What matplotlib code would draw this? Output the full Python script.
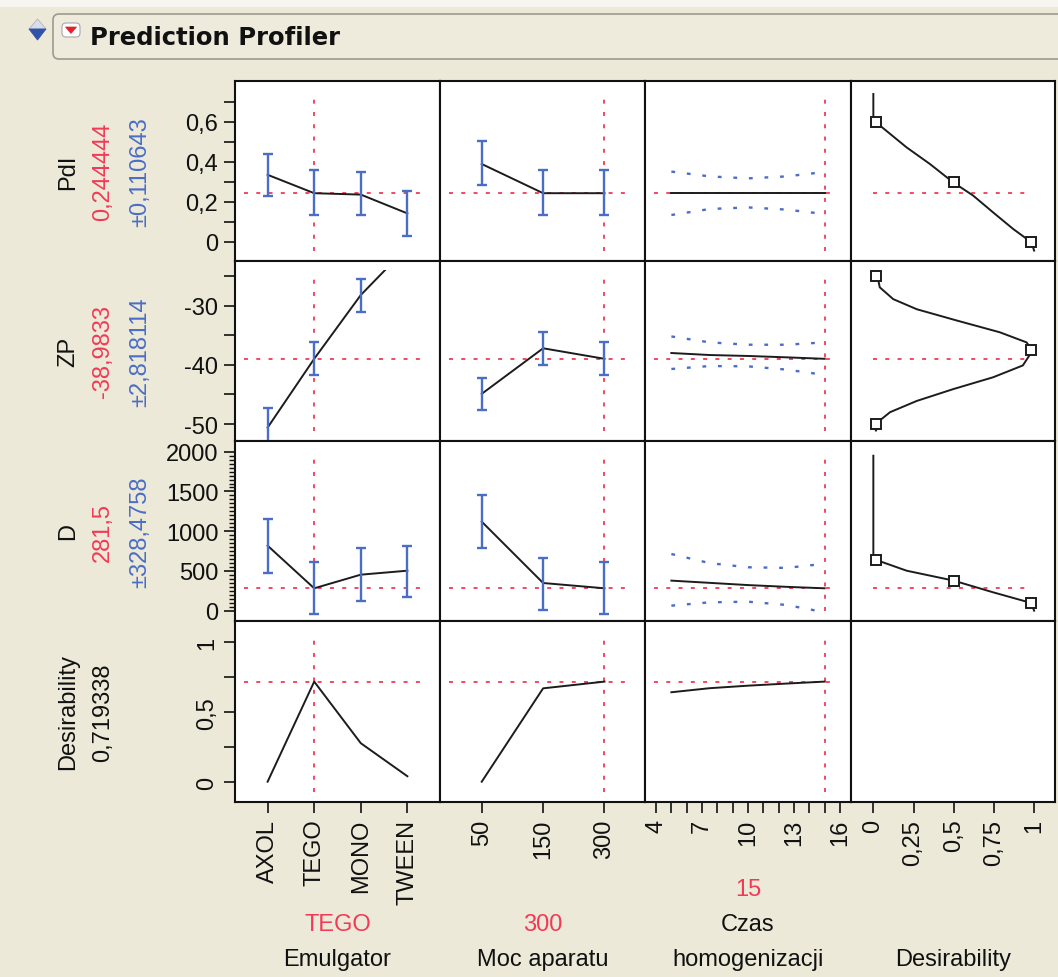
import numpy as np
import matplotlib.pyplot as plt
from matplotlib.patches import FancyBboxPatch, Polygon, Rectangle

plt.rcParams["font.family"] = ["Liberation Sans", "DejaVu Sans"]

# ── configuration ────────────────────────────────────────────────────
W, H = 1058, 978
BG = "#ECE9D8"
RED = "#F23A55"
BLUE = "#4A6EC6"
INK = "#1C1C1C"
FS = 17

COL_EDGES = [235, 440, 645, 851, 1055]   # panel grid, pixels
ROW_EDGES = [82, 262, 442, 622, 803]

# ── factors ──────────────────────────────────────────────────────────
EMUL_LEVELS = ["AXOL", "TEGO", "MONO", "TWEEN"]
MOC_LEVELS = ["50", "150", "300"]
CZAS_TICKS = [4, 7, 10, 13, 16]
DES_TICKS = [0, 0.25, 0.5, 0.75, 1]
DES_TICKLABELS = ["0", "0,25", "0,5", "0,75", "1"]

CURRENT = [1, 2, 15]                      # TEGO, 300, 15
FACTOR_CUR_TXT = ["TEGO", "300", "15"]
FACTOR_NAMES = ["Emulgator", "Moc aparatu", ["Czas", "homogenizacji"], "Desirability"]

# ── responses ────────────────────────────────────────────────────────
RESP_NAMES = ["PdI", "ZP", "D", "Desirability"]
PRED = [0.244444, -38.9833, 281.5, 0.719338]
PRED_TXT = ["0,244444", "-38,9833", "281,5", "0,719338"]
CI_TXT = ["±0,110643", "±2,818114", "±328,4758", None]

# Emulgator profile (AXOL, TEGO, MONO, TWEEN)
PDI_EMUL = [0.336, 0.244, 0.237, 0.143]
PDI_EMUL_LO = [0.228, 0.135, 0.135, 0.032]
PDI_EMUL_HI = [0.440, 0.360, 0.348, 0.257]
ZP_EMUL = [-50.6, -38.98, -28.2, -20.1]
ZP_EMUL_LO = [-53.8, -41.8, -31.0, -22.9]
ZP_EMUL_HI = [-47.35, -36.2, -25.5, -17.3]
D_EMUL = [818, 281.5, 453, 503]
D_EMUL_LO = [474, -47, 118, 169]
D_EMUL_HI = [1154, 610, 789, 810]
DES_EMUL = [0.004, 0.719, 0.279, 0.043]

# Moc aparatu profile (50, 150, 300)
PDI_MOC = [0.390, 0.244, 0.244]
PDI_MOC_LO = [0.287, 0.135, 0.135]
PDI_MOC_HI = [0.503, 0.360, 0.360]
ZP_MOC = [-44.9, -37.2, -38.98]
ZP_MOC_LO = [-47.6, -40.0, -41.8]
ZP_MOC_HI = [-42.2, -34.5, -36.2]
D_MOC = [1120, 348, 281.5]
D_MOC_LO = [789, 9, -47]
D_MOC_HI = [1459, 659, 610]
DES_MOC = [0.004, 0.671, 0.719]

# Czas homogenizacji profile (continuous)
CZAS = [5, 7.5, 10, 12.5, 15]
PDI_CZAS = [0.244, 0.244, 0.244, 0.244, 0.244]
PDI_CZAS_LO = [0.135, 0.165, 0.173, 0.162, 0.140]
PDI_CZAS_HI = [0.352, 0.328, 0.318, 0.328, 0.350]
ZP_CZAS = [-38.0, -38.34, -38.5, -38.73, -38.98]
ZP_CZAS_LO = [-40.7, -40.2, -40.25, -40.8, -41.7]
ZP_CZAS_HI = [-35.2, -36.2, -36.6, -36.6, -36.2]
D_CZAS = [378, 350, 322, 300, 281.5]
D_CZAS_LO = [63, 105, 113, 72, -20]
D_CZAS_HI = [713, 598, 546, 538, 590]
DES_CZAS = [0.643, 0.672, 0.690, 0.705, 0.719]

# desirability functions (desirability, response)
PDI_DES_D = [0.0, 0.0, 0.017, 0.207, 0.352, 0.497, 0.621, 0.745, 0.870, 0.984, 1.0]
PDI_DES_Y = [0.74, 0.60, 0.598, 0.473, 0.390, 0.298, 0.232, 0.148, 0.065, -0.002, -0.043]
ZP_DES_D = [0.027, 0.04, 0.124, 0.27, 0.518, 0.787, 0.953, 0.99,
            0.93, 0.745, 0.497, 0.27, 0.104, 0.04, 0.027, 0.016]
ZP_DES_Y = [-25.2, -26.9, -28.9, -30.6, -32.5, -34.5, -36.2, -37.6,
            -40.1, -42.1, -44.1, -46.1, -48.0, -49.4, -50.3, -51.1]
D_DES_D = [0.0, 0.0, 0.018, 0.207, 0.5, 0.745, 0.982, 1.0]
D_DES_Y = [1950, 650, 638, 503, 378, 231, 97, 0]

# desirability control points
PDI_PTS_D = [0.0183, 0.5, 0.9817]
PDI_PTS_Y = [0.6, 0.3, 0.0]
ZP_PTS_D = [0.0183, 0.9817, 0.0183]
ZP_PTS_Y = [-25, -37.5, -50]
D_PTS_D = [0.0183, 0.5, 0.9817]
D_PTS_Y = [638, 378, 97]

# ── per-panel data ───────────────────────────────────────────────────
CAT_PROFILES = {
    (0, 0): (PDI_EMUL, PDI_EMUL_LO, PDI_EMUL_HI),
    (1, 0): (ZP_EMUL, ZP_EMUL_LO, ZP_EMUL_HI),
    (2, 0): (D_EMUL, D_EMUL_LO, D_EMUL_HI),
    (3, 0): (DES_EMUL, None, None),
    (0, 1): (PDI_MOC, PDI_MOC_LO, PDI_MOC_HI),
    (1, 1): (ZP_MOC, ZP_MOC_LO, ZP_MOC_HI),
    (2, 1): (D_MOC, D_MOC_LO, D_MOC_HI),
    (3, 1): (DES_MOC, None, None),
}
CZAS_PROFILES = [
    (PDI_CZAS, PDI_CZAS_LO, PDI_CZAS_HI),
    (ZP_CZAS, ZP_CZAS_LO, ZP_CZAS_HI),
    (D_CZAS, D_CZAS_LO, D_CZAS_HI),
    (DES_CZAS, None, None),
]
DES_CURVES = [
    (PDI_DES_D, PDI_DES_Y, PDI_PTS_D, PDI_PTS_Y),
    (ZP_DES_D, ZP_DES_Y, ZP_PTS_D, ZP_PTS_Y),
    (D_DES_D, D_DES_Y, D_PTS_D, D_PTS_Y),
]

ROW_YLIM = [(-0.095, 0.805), (-52.87, -22.45), (-130, 2135), (-0.141, 1.152)]
COL_XLIM = [(-0.7, 3.7), (-0.68, 2.66), (3.28, 16.72), (-0.139, 1.13)]
ZP_CLIP_TOP = -24.0

RED_LS = (0, (2.2, 4.6))
BLUE_LS = (0, (1.6, 5.0))


def px_rect(x0, y0, x1, y1):
    return [x0 / W, 1 - y1 / H, (x1 - x0) / W, (y1 - y0) / H]


def px_text(x, y, s, **kw):
    fig.text(x / W, 1 - y / H, s, ha="center", va="center", **kw)


# ── figure ───────────────────────────────────────────────────────────
fig = plt.figure(figsize=(W / 100, H / 100), dpi=100, facecolor=BG)

# background layer in pixel coordinates (header bar)
bg = fig.add_axes([0, 0, 1, 1], zorder=-5)
bg.set_xlim(0, W)
bg.set_ylim(H, 0)
bg.axis("off")
bg.add_patch(Rectangle((0, 0), W, 8, color="#F6F5EF", lw=0))
bg.add_patch(FancyBboxPatch((53, 15), 1030, 45, boxstyle="round,pad=0,rounding_size=6",
                            fc="#EEEBDD", ec="#9C9A90", lw=1.2))
bg.add_patch(Polygon([(29, 30), (37.5, 20), (46, 30)], closed=True, fc="#D8DDE8", ec="#B0B4C0", lw=0.6))
bg.add_patch(Polygon([(29, 30), (46, 30), (37.5, 41)], closed=True, fc="#2F53A8", ec="#2F53A8", lw=0.6))
bg.add_patch(FancyBboxPatch((62, 24), 18, 14, boxstyle="round,pad=0,rounding_size=4",
                            fc="white", ec="#A8A8A8", lw=0.8))
bg.add_patch(Polygon([(65.5, 28), (76.5, 28), (71, 34.5)], closed=True, fc="#E8202A", ec="#E8202A", lw=0.5))
fig.text(90 / W, 1 - 38 / H, "Prediction Profiler", fontsize=17.5, fontweight="bold",
         family="DejaVu Sans", va="center", ha="left", color="#111111")

for r in range(4):
    for c in range(4):
        ax = fig.add_axes(px_rect(COL_EDGES[c], ROW_EDGES[r], COL_EDGES[c + 1], ROW_EDGES[r + 1]))
        ax.set_facecolor("white")
        ax.set_xlim(*COL_XLIM[c])
        ax.set_ylim(*ROW_YLIM[r])
        for sp in ax.spines.values():
            sp.set_linewidth(1.5)
            sp.set_color("#111111")
        ax.tick_params(which="both", direction="out", width=1.2, colors="#111111",
                       labelsize=FS, left=(c == 0), labelleft=(c == 0),
                       bottom=(r == 3), labelbottom=(r == 3))
        ax.tick_params(which="major", length=8, pad=4)
        ax.tick_params(which="minor", length=8)

        # ── profile traces ──
        if c < 2:
            mean, lo, hi = CAT_PROFILES[(r, c)]
            xs = np.arange(len(mean))
            arts = ax.plot(xs, mean, color=INK, lw=1.4, zorder=3)
            if lo is not None:
                eb = ax.errorbar(xs, mean, yerr=[np.subtract(mean, lo), np.subtract(hi, mean)],
                                 fmt="none", ecolor=BLUE, elinewidth=1.7, capsize=3.6,
                                 capthick=1.7, zorder=4)
                arts += list(eb.lines[1]) + list(eb.lines[2])
            if r == 1 and c == 0:
                lim = ax.get_xlim()
                clip = Rectangle((lim[0], ROW_YLIM[1][0]), lim[1] - lim[0],
                                 ZP_CLIP_TOP - ROW_YLIM[1][0], transform=ax.transData)
                for a in arts:
                    a.set_clip_path(clip)
        elif c == 2:
            mean, lo, hi = CZAS_PROFILES[r]
            ax.plot(CZAS, mean, color=INK, lw=1.4, zorder=3)
            if lo is not None:
                ax.plot(CZAS, lo, color=BLUE, lw=1.7, ls=BLUE_LS, zorder=3)
                ax.plot(CZAS, hi, color=BLUE, lw=1.7, ls=BLUE_LS, zorder=3)
        elif r < 3:
            dd, yy, pd_, py_ = DES_CURVES[r]
            ax.plot(dd, yy, color=INK, lw=1.4, zorder=3)
            ax.plot(pd_, py_, ls="none", marker="s", ms=6.5, mfc="white",
                    mec=INK, mew=1.4, zorder=4)

        # ── current-value crosshairs ──
        if c < 3:
            ax.axhline(PRED[r], xmin=0.045, xmax=0.915, color=RED, lw=1.3, ls=RED_LS, zorder=2)
            ax.axvline(CURRENT[c], ymin=0.055, ymax=0.905, color=RED, lw=1.3, ls=RED_LS, zorder=2)
        elif r < 3:
            ax.axhline(PRED[r], xmin=0.108, xmax=0.86, color=RED, lw=1.3, ls=RED_LS, zorder=2)

        # ── axes ticks ──
        if c == 0:
            if r == 0:
                ax.set_yticks([0, 0.2, 0.4, 0.6], ["0", "0,2", "0,4", "0,6"])
                ax.set_yticks([0.1, 0.3, 0.5, 0.7], minor=True)
            elif r == 1:
                ax.set_yticks([-50, -40, -30], ["-50", "-40", "-30"])
                ax.set_yticks([-45, -35, -25], minor=True)
            elif r == 2:
                ax.set_yticks([0, 500, 1000, 1500, 2000], ["0", "500", "1000", "1500", "2000"])
                ax.set_yticks(np.arange(0, 2001, 50), minor=True)
                ax.tick_params(axis="y", which="minor", length=4, width=1.0)
            else:
                ax.set_yticks([0, 0.5, 1], ["0", "0,5", "1"])
                ax.set_yticks([0.25, 0.75], minor=True)
                for lab in ax.get_yticklabels():
                    lab.set_rotation(90)
                    lab.set_va("center")
        else:
            ax.set_yticks([])
        if r == 3:
            if c == 0:
                ax.set_xticks(range(len(EMUL_LEVELS)), EMUL_LEVELS, rotation=90)
            elif c == 1:
                ax.set_xticks(range(len(MOC_LEVELS)), MOC_LEVELS, rotation=90)
            elif c == 2:
                ax.set_xticks(CZAS_TICKS, [str(t) for t in CZAS_TICKS], rotation=90)
                ax.set_xticks(range(4, 17), minor=True)
            else:
                ax.set_xticks(DES_TICKS, DES_TICKLABELS, rotation=90)
        else:
            ax.set_xticks([])
        if c > 0:
            ax.set_yticks([], minor=True)
        if r < 3:
            ax.set_xticks([], minor=True)

# ── response labels (left) ──
for r in range(4):
    yc = (ROW_EDGES[r] + ROW_EDGES[r + 1]) / 2
    px_text(68, yc, RESP_NAMES[r], rotation=90, fontsize=FS, color="#111111")
    px_text(103, yc, PRED_TXT[r], rotation=90, fontsize=FS,
            color=RED if CI_TXT[r] else "#111111")
    if CI_TXT[r]:
        px_text(140, yc, CI_TXT[r], rotation=90, fontsize=FS, color=BLUE)

# ── factor labels (bottom) ──
for c in range(4):
    xc = (COL_EDGES[c] + COL_EDGES[c + 1]) / 2
    if c < 2:
        px_text(xc, 925, FACTOR_CUR_TXT[c], fontsize=FS, color=RED)
        px_text(xc, 960, FACTOR_NAMES[c], fontsize=FS, color="#111111")
    elif c == 2:
        px_text(xc, 890, FACTOR_CUR_TXT[c], fontsize=FS, color=RED)
        px_text(xc, 925, FACTOR_NAMES[c][0], fontsize=FS, color="#111111")
        px_text(xc, 960, FACTOR_NAMES[c][1], fontsize=FS, color="#111111")
    else:
        px_text(xc, 960, FACTOR_NAMES[c], fontsize=FS, color="#111111")

fig.savefig("out.png", dpi=100, facecolor=BG)
plt.close(fig)
